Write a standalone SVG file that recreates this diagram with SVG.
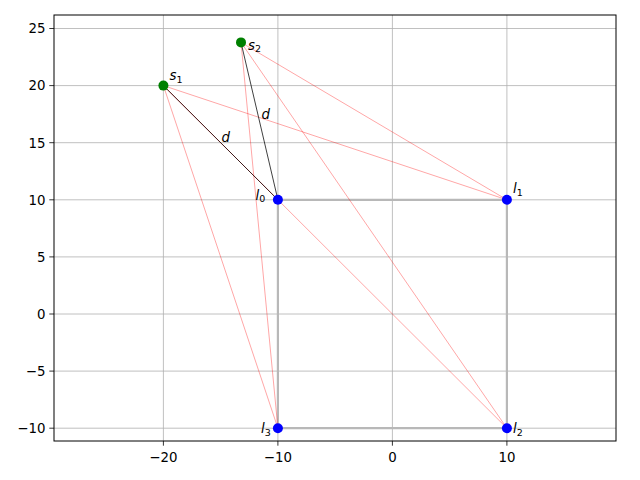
<svg xmlns="http://www.w3.org/2000/svg" width="640" height="480" viewBox="0 0 640 480">
<style>
.grid{stroke:#b0b0b0;stroke-width:0.8;fill:none}
.tick{stroke:#000;stroke-width:0.8}
.tl{font-family:"DejaVu Sans",sans-serif;font-size:13.33px;fill:#000}
.sq{stroke:#b8b8b8;stroke-width:2.2;fill:none;stroke-linecap:square}
.ray{stroke:#ff0000;stroke-opacity:0.5;stroke-width:0.7;fill:none}
.dist{stroke:#000;stroke-width:0.75;fill:none}
.lab{font-family:"DejaVu Sans",sans-serif;font-size:13.33px;font-style:italic;fill:#000}
.sub{font-style:normal;font-size:9.5px}
.lm{fill:#0000ff}
.sm{fill:#008000}
</style>
<rect x="0" y="0" width="640" height="480" fill="#fff"/>
<g id="axes">
<g id="grid">
<path class="grid" d="M163.4,15V441M277.9,15V441M392.4,15V441M506.9,15V441"/>
<path class="grid" d="M54,428.2H616M54,371.1H616M54,314H616M54,256.9H616M54,199.8H616M54,142.7H616M54,85.6H616M54,28.5H616"/>
</g>
<rect x="54" y="15" width="562" height="426" fill="none" stroke="#000" stroke-width="1"/>
<path class="tick" d="M163.4,441v4.7M277.9,441v4.7M392.4,441v4.7M506.9,441v4.7"/>
<path class="tick" d="M54,428.2h-4.7M54,371.1h-4.7M54,314h-4.7M54,256.9h-4.7M54,199.8h-4.7M54,142.7h-4.7M54,85.6h-4.7M54,28.5h-4.7"/>
<g class="tl" text-anchor="middle">
<text x="163.4" y="461.5">−20</text>
<text x="277.9" y="461.5">−10</text>
<text x="392.4" y="461.5">0</text>
<text x="506.9" y="461.5">10</text>
</g>
<g class="tl" text-anchor="end">
<text x="45.5" y="433">−10</text>
<text x="45.5" y="375.9">−5</text>
<text x="45.5" y="318.8">0</text>
<text x="45.5" y="261.7">5</text>
<text x="45.5" y="204.6">10</text>
<text x="45.5" y="147.5">15</text>
<text x="45.5" y="90.4">20</text>
<text x="45.5" y="33.3">25</text>
</g>
</g>
<g id="connectors">
<path class="sq" d="M277.9,199.8H506.9V428.2H277.9Z"/>
<path class="ray" d="M163.4,85.6L506.9,199.8M163.4,85.6L506.9,428.2M163.4,85.6L277.9,428.2"/>
<path class="ray" d="M241,42.4L506.9,199.8M241,42.4L506.9,428.2M241,42.4L277.9,428.2"/>
<path class="ray" d="M163.4,85.6L277.9,199.8"/>
<path class="dist" d="M163.4,85.6L277.9,199.8M241,42.4L277.9,199.8"/>
<text class="lab" x="221.5" y="142">d</text>
<text class="lab" x="261.5" y="119">d</text>
</g>
<g id="s1"><circle class="sm" cx="163.4" cy="85.6" r="5"/><text class="lab" x="169.5" y="80">s<tspan class="sub" dy="2.5">1</tspan></text></g>
<g id="s2"><circle class="sm" cx="241" cy="42.4" r="5"/><text class="lab" x="248" y="49.5">s<tspan class="sub" dy="2.5">2</tspan></text></g>
<g id="l0"><circle class="lm" cx="277.9" cy="199.8" r="5"/><text class="lab" x="255.5" y="199.5">l<tspan class="sub" dy="2.5">0</tspan></text></g>
<g id="l1"><circle class="lm" cx="506.9" cy="199.8" r="5"/><text class="lab" x="513" y="193">l<tspan class="sub" dy="2.5">1</tspan></text></g>
<g id="l2"><circle class="lm" cx="506.9" cy="428.2" r="5"/><text class="lab" x="513" y="433">l<tspan class="sub" dy="2.5">2</tspan></text></g>
<g id="l3"><circle class="lm" cx="277.9" cy="428.2" r="5"/><text class="lab" x="261" y="433">l<tspan class="sub" dy="2.5">3</tspan></text></g>
</svg>
